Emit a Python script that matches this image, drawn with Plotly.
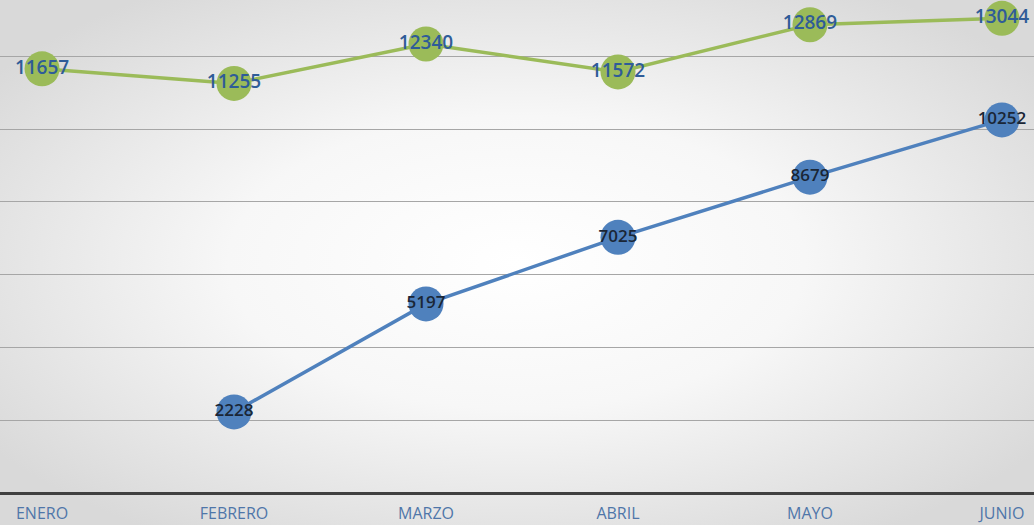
import plotly.graph_objects as go
import urllib.parse

months = ["ENERO", "FEBRERO", "MARZO", "ABRIL", "MAYO", "JUNIO"]
green_values = [11657, 11255, 12340, 11572, 12869, 13044]
blue_months = ["FEBRERO", "MARZO", "ABRIL", "MAYO", "JUNIO"]
blue_values = [2228, 5197, 7025, 8679, 10252]

svg = (
    "<svg xmlns='http://www.w3.org/2000/svg' width='1034' height='525' viewBox='0 0 1034 525' preserveAspectRatio='none'>"
    "<defs><radialGradient id='g' cx='50%' cy='50%' r='62%'>"
    "<stop offset='0%' stop-color='#ffffff'/>"
    "<stop offset='45%' stop-color='#f7f7f7'/>"
    "<stop offset='100%' stop-color='#d9d9d9'/>"
    "</radialGradient></defs>"
    "<rect width='1034' height='525' fill='url(#g)'/></svg>"
)
bg_src = "data:image/svg+xml;charset=utf-8," + urllib.parse.quote(svg)

fig = go.Figure()
fig.add_trace(go.Scatter(
    x=months, y=green_values, mode="lines+markers+text",
    text=[str(v) for v in green_values], textposition="middle center",
    line=dict(color="#9BBB59", width=3.5),
    marker=dict(color="#9BBB59", size=35),
    textfont=dict(family="Open Sans", size=19, color="#2F5C98", weight=600),
    cliponaxis=False, showlegend=False,
))
fig.add_trace(go.Scatter(
    x=blue_months, y=blue_values, mode="lines+markers+text",
    text=[str(v) for v in blue_values], textposition="middle center",
    line=dict(color="#4F81BD", width=3.5),
    marker=dict(color="#4F81BD", size=35),
    textfont=dict(family="Open Sans", size=17, color="#1A2636", weight=600),
    cliponaxis=False, showlegend=False,
))

fig.update_layout(
    width=1034, height=525,
    margin=dict(l=0, r=0, t=0, b=32, autoexpand=False),
    paper_bgcolor="rgba(0,0,0,0)",
    plot_bgcolor="rgba(0,0,0,0)",
    images=[dict(source=bg_src, xref="paper", yref="paper", x=0, y=1,
                 sizex=1, sizey=1.065, sizing="stretch", layer="below",
                 xanchor="left", yanchor="top")],
)
fig.update_xaxes(
    type="category", categoryorder="array", categoryarray=months,
    range=[-0.219, 5.167], showgrid=False, zeroline=False, automargin=False,
    showline=False, ticks="", ticklabelstandoff=9,
    tickfont=dict(family="Open Sans", size=16, color="#4F76A9"),
)
fig.update_yaxes(
    range=[0, 13548], dtick=2000, showgrid=True, gridcolor="#A6A6A6",
    gridwidth=1, zeroline=True, zerolinecolor="#404040", zerolinewidth=2.5,
    showticklabels=False, showline=False, ticks="", automargin=False,
)

fig.write_html(
    "out.html",
    config={"displayModeBar": False},
    post_script="document.body.style.margin='0';document.body.style.overflow='hidden';",
)
